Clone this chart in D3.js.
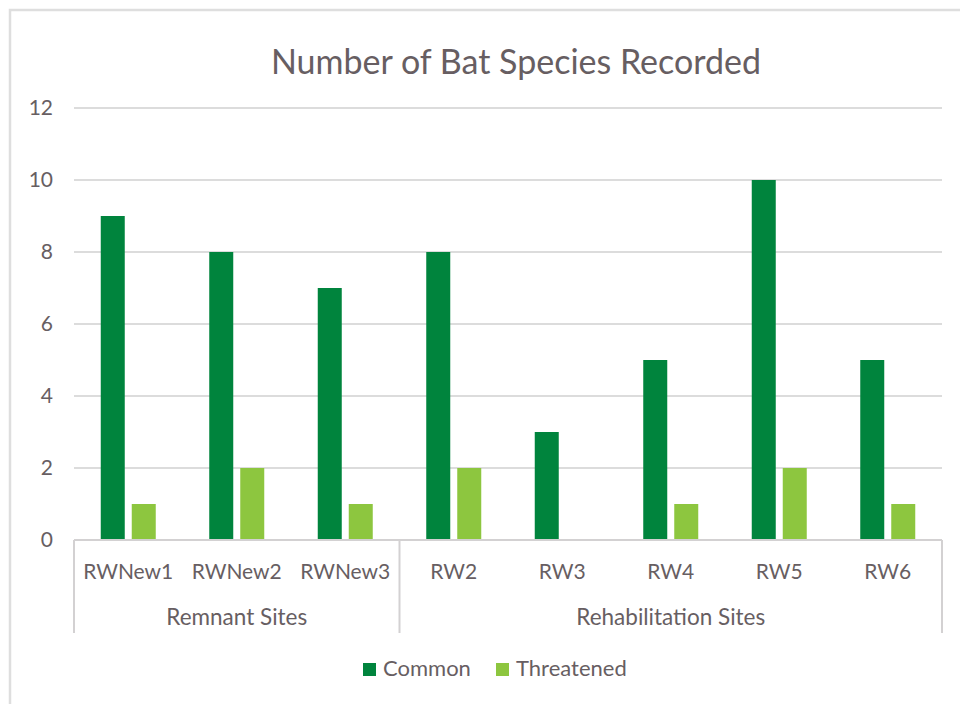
<!DOCTYPE html>
<html>
<head>
<meta charset="utf-8">
<script src="https://cdn.jsdelivr.net/npm/d3@7"></script>
<style>
  html, body { margin: 0; padding: 0; background: #fff; }
  svg { display: block; font-family: Lato, "Open Sans", sans-serif; }
</style>
</head>
<body>
<svg id="chart" width="960" height="704"></svg>
<script>
// Bat survey: species counts per site
const sites = ["RWNew1", "RWNew2", "RWNew3", "RW2", "RW3", "RW4", "RW5", "RW6"];
const groups = [
  { name: "Remnant Sites", sites: ["RWNew1", "RWNew2", "RWNew3"] },
  { name: "Rehabilitation Sites", sites: ["RW2", "RW3", "RW4", "RW5", "RW6"] }
];
const seriesNames = ["Common", "Threatened"];
const common = [9, 8, 7, 8, 3, 5, 10, 5];
const threatened = [1, 2, 1, 2, 0, 1, 2, 1];
const yTicks = [0, 2, 4, 6, 8, 10, 12];
const colors = ["#00843d", "#8dc63f"];

const textColor = "#675e62";
const gridColor = "#dcdcdc";
const axisColor = "#d3d1d2";

const svg = d3.select("#chart");

// chart frame
svg.append("rect")
  .attr("x", 10).attr("y", 10)
  .attr("width", 990).attr("height", 730)
  .attr("fill", "#fff")
  .attr("stroke", "#dedede").attr("stroke-width", 2.5);

const plot = { left: 74, right: 942, top: 108, bottom: 540 };

const y = d3.scaleLinear().domain([0, 12]).range([plot.bottom, plot.top]);
const x0 = d3.scaleBand().domain(sites).range([plot.left, plot.right]).padding(0);
const x1 = d3.scaleBand().domain(seriesNames).range([0, x0.bandwidth()])
  .paddingInner(0.2258).paddingOuter(0.863);

// title
svg.append("text")
  .attr("x", 516).attr("y", 74)
  .attr("text-anchor", "middle")
  .attr("fill", textColor)
  .style("font-size", "34px")
  .text("Number of Bat Species Recorded");

// horizontal gridlines (baseline drawn separately)
svg.append("g")
  .selectAll("line")
  .data(yTicks.filter(d => d > 0))
  .join("line")
  .attr("x1", plot.left).attr("x2", plot.right)
  .attr("y1", d => y(d)).attr("y2", d => y(d))
  .attr("stroke", gridColor).attr("stroke-width", 2);

// value axis labels
const yAxis = d3.axisLeft(y).tickValues(yTicks).tickSize(0).tickPadding(0).tickFormat(d3.format("d"));
const yg = svg.append("g").attr("transform", `translate(${plot.left - 21},0)`).call(yAxis);
yg.select(".domain").remove();
yg.selectAll("text")
  .attr("fill", textColor)
  .style("font-size", "21px")
  .style("font-family", "Lato, sans-serif");

// bars
const rows = sites.map((s, i) => ({ site: s, values: [common[i], threatened[i]] }));
const siteG = svg.append("g")
  .selectAll("g")
  .data(rows)
  .join("g")
  .attr("transform", d => `translate(${x0(d.site)},0)`);

siteG.selectAll("rect")
  .data(d => d.values.map((v, k) => ({ key: seriesNames[k], value: v, k })))
  .join("rect")
  .attr("x", d => x1(d.key))
  .attr("width", x1.bandwidth())
  .attr("y", d => y(d.value))
  .attr("height", d => y(0) - y(d.value))
  .attr("fill", d => colors[d.k]);

// category axis: baseline and group dividers
const axisG = svg.append("g");
axisG.append("line")
  .attr("x1", plot.left).attr("x2", plot.right)
  .attr("y1", y(0)).attr("y2", y(0))
  .attr("stroke", axisColor).attr("stroke-width", 2);

const dividers = [plot.left];
groups.forEach(g => dividers.push(x0(g.sites[g.sites.length - 1]) + x0.bandwidth()));
axisG.selectAll("line.div")
  .data(dividers)
  .join("line")
  .attr("class", "div")
  .attr("x1", d => d).attr("x2", d => d)
  .attr("y1", y(0)).attr("y2", 633)
  .attr("stroke", axisColor).attr("stroke-width", 2);

// site labels
axisG.selectAll("text.site")
  .data(sites)
  .join("text")
  .attr("class", "site")
  .attr("x", d => x0(d) + x0.bandwidth() / 2)
  .attr("y", 579)
  .attr("text-anchor", "middle")
  .attr("fill", textColor)
  .style("font-size", "21px")
  .text(d => d);

// group labels
axisG.selectAll("text.group")
  .data(groups)
  .join("text")
  .attr("class", "group")
  .attr("x", g => (x0(g.sites[0]) + x0(g.sites[g.sites.length - 1]) + x0.bandwidth()) / 2)
  .attr("y", 625)
  .attr("text-anchor", "middle")
  .attr("fill", textColor)
  .style("font-size", "22.5px")
  .text(g => g.name);

// legend
const legendItems = [
  { name: seriesNames[0], color: colors[0], x: 363 },
  { name: seriesNames[1], color: colors[1], x: 496 }
];
const leg = svg.append("g")
  .selectAll("g")
  .data(legendItems)
  .join("g")
  .attr("transform", d => `translate(${d.x},663)`);
leg.append("rect")
  .attr("width", 13).attr("height", 13)
  .attr("fill", d => d.color);
leg.append("text")
  .attr("x", 20).attr("y", 13)
  .attr("fill", textColor)
  .style("font-size", "22px")
  .text(d => d.name);
</script>
</body>
</html>
